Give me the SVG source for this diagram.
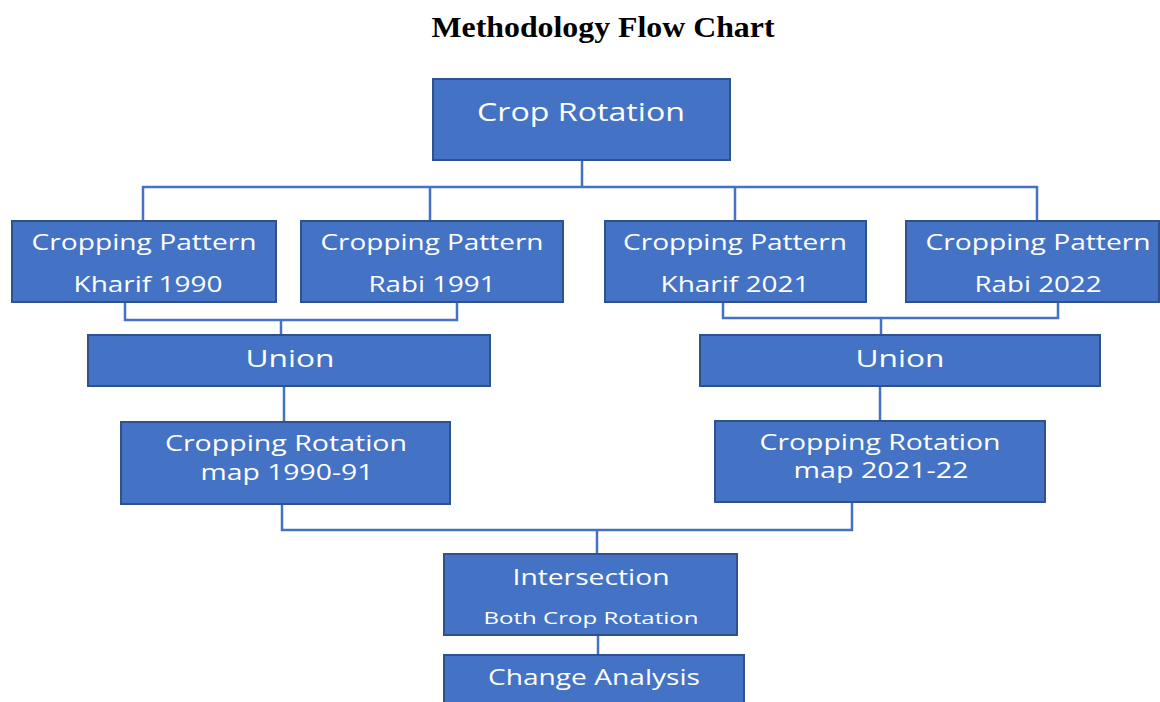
<svg xmlns="http://www.w3.org/2000/svg" width="1160" height="702" viewBox="0 0 1160 702">
<style>
.box{fill:#4472C4;stroke:#2F528F;stroke-width:2}
.t{fill:#FFFFFF;font-family:"Open Sans","Liberation Sans",sans-serif;text-anchor:middle}
.c{fill:none;stroke:#4472C4;stroke-width:2.5}
.title{font-family:"Liberation Serif",serif;font-weight:bold;font-size:29px;text-anchor:middle;fill:#000}
</style>
<rect width="1160" height="702" fill="#FFFFFF"/>
<text class="title" x="603" y="37" textLength="343" lengthAdjust="spacingAndGlyphs">Methodology Flow Chart</text>
<g id="connectors">
<path class="c" d="M582,160 V187 M143,221 V187 H1037 V221 M430,187 V221 M735,187 V221"/>
<path class="c" d="M125,302 V320 H457 V302 M281,320 V335"/>
<path class="c" d="M723,302 V318 H1058 V302 M881,318 V335"/>
<path class="c" d="M284,386 V422"/>
<path class="c" d="M880,386 V421"/>
<path class="c" d="M282,504 V530 H852 V502 M597,530 V554"/>
<path class="c" d="M598,635 V655"/>
</g>
<g id="crop-rotation">
<rect class="box" x="433" y="79" width="297" height="81"/>
<text class="t" x="581" y="121" font-size="25" textLength="208" lengthAdjust="spacingAndGlyphs">Crop Rotation</text>
</g>
<g id="cp-kharif-1990">
<rect class="box" x="12" y="221" width="264" height="81"/>
<text class="t" x="144" y="250" font-size="21" textLength="225" lengthAdjust="spacingAndGlyphs">Cropping Pattern</text>
<text class="t" x="148" y="292" font-size="21" textLength="149" lengthAdjust="spacingAndGlyphs">Kharif 1990</text>
</g>
<g id="cp-rabi-1991">
<rect class="box" x="301" y="221" width="262" height="81"/>
<text class="t" x="432" y="250" font-size="21" textLength="223" lengthAdjust="spacingAndGlyphs">Cropping Pattern</text>
<text class="t" x="432" y="292" font-size="21" textLength="127" lengthAdjust="spacingAndGlyphs">Rabi 1991</text>
</g>
<g id="cp-kharif-2021">
<rect class="box" x="605" y="221" width="261" height="81"/>
<text class="t" x="735" y="250" font-size="21" textLength="224" lengthAdjust="spacingAndGlyphs">Cropping Pattern</text>
<text class="t" x="735" y="292" font-size="21" textLength="149" lengthAdjust="spacingAndGlyphs">Kharif 2021</text>
</g>
<g id="cp-rabi-2022">
<rect class="box" x="906" y="221" width="253" height="81"/>
<text class="t" x="1038" y="250" font-size="21" textLength="225" lengthAdjust="spacingAndGlyphs">Cropping Pattern</text>
<text class="t" x="1038" y="292" font-size="21" textLength="127" lengthAdjust="spacingAndGlyphs">Rabi 2022</text>
</g>
<g id="union-1">
<rect class="box" x="88" y="335" width="402" height="51"/>
<text class="t" x="290" y="367" font-size="23" textLength="89" lengthAdjust="spacingAndGlyphs">Union</text>
</g>
<g id="union-2">
<rect class="box" x="700" y="335" width="400" height="51"/>
<text class="t" x="900" y="367" font-size="23" textLength="89" lengthAdjust="spacingAndGlyphs">Union</text>
</g>
<g id="map-1990-91">
<rect class="box" x="121" y="422" width="329" height="82"/>
<text class="t" x="286" y="451" font-size="21" textLength="242" lengthAdjust="spacingAndGlyphs">Cropping Rotation</text>
<text class="t" x="287" y="480" font-size="21" textLength="173" lengthAdjust="spacingAndGlyphs">map 1990-91</text>
</g>
<g id="map-2021-22">
<rect class="box" x="715" y="421" width="330" height="81"/>
<text class="t" x="880" y="450" font-size="21" textLength="241" lengthAdjust="spacingAndGlyphs">Cropping Rotation</text>
<text class="t" x="881" y="478" font-size="21" textLength="175" lengthAdjust="spacingAndGlyphs">map 2021-22</text>
</g>
<g id="intersection">
<rect class="box" x="444" y="554" width="293" height="81"/>
<text class="t" x="591" y="585" font-size="21" textLength="157" lengthAdjust="spacingAndGlyphs">Intersection</text>
<text class="t" x="591" y="624" font-size="17" textLength="215" lengthAdjust="spacingAndGlyphs">Both Crop Rotation</text>
</g>
<g id="change-analysis">
<rect class="box" x="444" y="655" width="300" height="60"/>
<text class="t" x="594" y="685" font-size="21" textLength="212" lengthAdjust="spacingAndGlyphs">Change Analysis</text>
</g>
</svg>
